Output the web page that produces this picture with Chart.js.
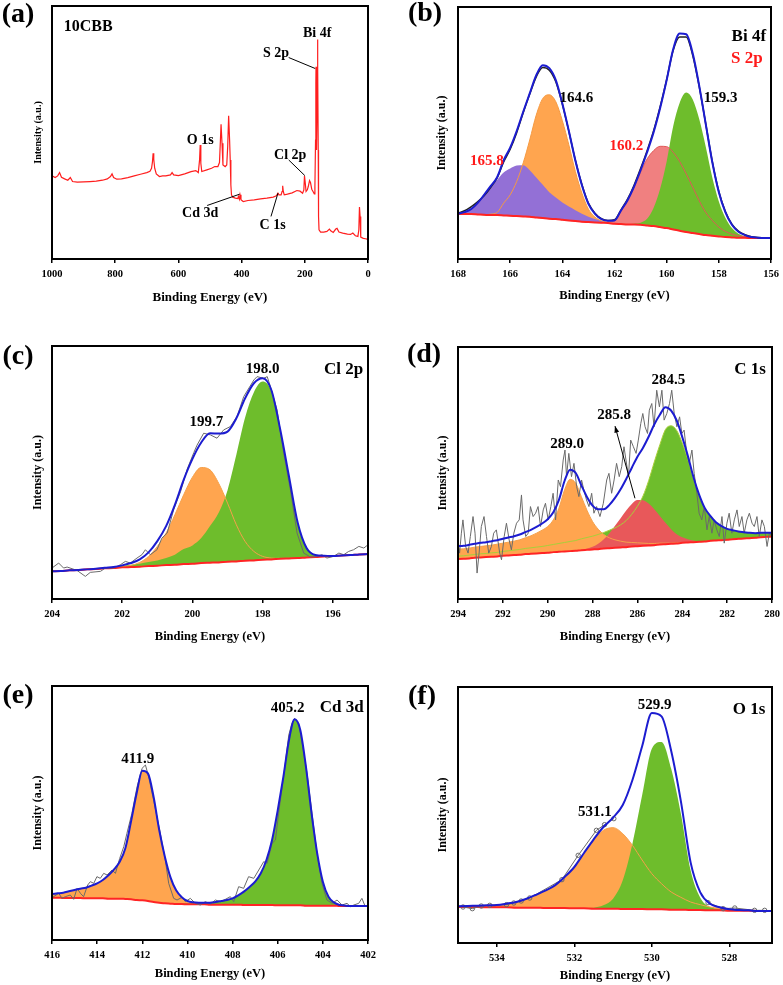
<!DOCTYPE html>
<html>
<head>
<meta charset="utf-8">
<title>XPS spectra of 10CBB</title>
<script src="https://cdn.jsdelivr.net/npm/chart.js@4.4.1/dist/chart.umd.min.js"></script>
<style>
  body { margin: 0; background: #fff; }
  #fig { position: relative; width: 783px; height: 985px; background: #fff; }
  #fig canvas { position: absolute; }
</style>
</head>
<body>
<div id="fig">
  <canvas id="pa" width="390" height="320" style="left:0;top:0"></canvas>
  <canvas id="pb" width="393" height="320" style="left:390px;top:0"></canvas>
  <canvas id="pc" width="390" height="340" style="left:0;top:320px"></canvas>
  <canvas id="pd" width="393" height="340" style="left:390px;top:320px"></canvas>
  <canvas id="pe" width="390" height="325" style="left:0;top:660px"></canvas>
  <canvas id="pf" width="393" height="325" style="left:390px;top:660px"></canvas>
</div>
<script>
// ---- (a) survey ----
const surveyEnergy = [1000,990,982,976,970,960,950,942,935,920,900,880,860,840,825,815,810,805,795,780,
  760,740,720,700,690,685,682,680,678,675,670,660,650,640,625,620,615,600,580,560,
  545,537,533,531,529,526,510,495,485,475,470,467,465,462,459,452,447,444,441,438,
  436,434,432,428,420,412,410,407,405,402,395,380,360,340,320,300,290,285,282,275,
  272,270,268,265,255,240,225,215,207,203,201,199,196,192,189,185,182,178,174,170,
  168,166,165,164.5,164,163,162,161,160,159.3,158.5,157.5,156.5,155,150,140,130,122,118,110,
  102,98,92,80,65,55,48,40,32,29,27,25,23,15,8,3,0];
const surveyCounts = [250,245,250,260,246,241,237,245,233,231,232,233,234,237,241,248,256,245,240,241,
  245,250,255,260,264,273,293,318,300,273,256,248,250,250,253,260,253,251,256,263,
  266,260,298,343,288,263,268,273,278,278,290,358,405,348,283,278,283,338,431,358,
  298,223,193,186,183,182,188,180,193,178,173,176,178,181,183,186,190,198,193,193,
  203,220,203,193,195,199,206,204,198,208,250,233,203,208,218,236,230,210,203,196,
  218,358,528,578,548,358,328,478,628,660,578,328,128,88,81,81,83,90,85,80,
  90,92,81,78,75,74,78,70,68,88,156,128,66,62,61,60,57];
const surveyTicks = [1000, 800, 600, 400, 200, 0];

// ---- (b) Bi 4f / S 2p ----
const bi4fEnergy = [168,167.75,167.5,167.25,167,166.75,166.5,166.25,166,165.75,165.5,165.25,165,164.75,164.5,164.25,164,163.75,163.5,163.25,
  163,162.75,162.5,162.25,162,161.75,161.5,161.25,161,160.75,160.5,160.25,160,159.75,159.5,159.25,159,158.75,158.5,158.25,
  158,157.75,157.5,157.25,157,156.75,156.5,156.25,156];
const bi4fRaw = [138,145,157,172,190,215,244,292,330,380,440,496,548,576,568,533,466,384,297,224,
  168,138,121,116,118,148,180,222,272,326,386,458,540,628,668,668,612,518,406,293,
  203,143,105,84,73,67,65,64,64];
const bi4fEnvelope = [136,141,150,168,193,219,246,297,335,385,443,498,553,583,574,538,468,385,296,222,
  166,136,120,115,116,146,177,218,267,321,381,454,538,631,678,676,618,520,405,291,
  201,141,103,82,72,66,64,63,63];
const bi4fBackground = [136,135,135,134,133,132,132,131,130,129,128,127,125,123,121,120,118,116,114,112,
  111,110,109,108,106,105,104,104,103,101,99,96,93,89,85,81,78,75,72,70,
  68,66,65,64,64,63,63,63,63];
const s2p1658 = [0,6,15,34,60,84,106,129,142,152,154,140,120,100,80,65,52,42,33,24,
  16,10,5,2,0,0,0,0,0,0,0,0,0,0,0,0,0,0,0,0,
  0,0,0,0,0,0,0,0,0];
const bi4f1646 = [0,0,0,0,0,3,8,37,63,104,161,231,308,360,373,353,298,227,149,86,
  39,16,6,2,0,0,0,0,0,0,0,0,0,0,0,0,0,0,0,0,
  0,0,0,0,0,0,0,0,0];
const s2p1602 = [0,0,0,0,0,0,0,0,0,0,0,0,0,0,0,0,0,0,0,0,
  0,0,0,3,10,41,72,112,158,200,227,243,245,232,208,175,138,100,68,46,
  28,17,10,6,3,1,0,0,0];
const bi4f1593 = [0,0,0,0,0,0,0,0,0,0,0,0,0,0,0,0,0,0,0,0,
  0,0,0,0,0,0,1,2,6,20,55,115,200,310,385,420,402,345,265,175,
  105,58,28,12,5,2,1,0,0];
const bi4fTicks = [168, 166, 164, 162, 160, 158, 156];

// ---- (c) Cl 2p ----
const cl2pEnergy = [204,203.75,203.5,203.25,203,202.75,202.5,202.25,202,201.75,201.5,201.25,201,200.75,200.5,200.25,200,199.75,199.5,199.25,
  199,198.75,198.5,198.25,198,197.75,197.5,197.25,197,196.75,196.5,196.25,196,195.75,195.5,195.25,195];
const cl2pBackground = [83,84,86,87,89,90,92,93,95,96,97,99,100,102,103,105,106,108,109,110,
  112,113,115,116,118,119,121,122,123,125,126,128,129,131,132,134,135];
const cl2pEnvelope = [83,84,86,87,89,91,94,96,101,108,119,140,174,219,283,358,421,470,498,497,
  503,543,603,648,663,627,509,368,228,153,132,130,129,131,132,134,135];
const cl2p1997 = [0,0,0,0,0,0,0,0,1,5,13,29,58,96,150,208,260,287,279,237,
  176,110,58,27,10,4,1,0,0,0,0,0,0,0,0,0,0];
const cl2p1980 = [0,0,0,0,0,1,2,3,5,7,9,12,16,21,30,45,55,75,110,150,
  215,320,430,505,535,504,387,246,105,28,6,2,0,0,0,0,0];
const cl2pRawEnergy = [204.0,203.81,203.67,203.57,203.29,203.05,202.91,202.62,202.48,202.24,202.05,201.91,201.77,201.58,201.44,201.34,201.2,201.01,200.87,200.72,
  200.53,200.34,200.15,199.96,199.87,199.68,199.49,199.3,199.11,198.92,198.73,198.54,198.25,198.16,197.97,197.87,197.78,197.59,197.4,197.21,
  197.02,196.83,196.64,196.45,196.31,196.17,195.98,195.83,195.69,195.55,195.41,195.26,195.12,195.0];
const cl2pRaw = [93,108,93,96,86,68,80,83,93,93,103,113,108,123,133,148,133,148,183,198,
  270,322,390,440,462,498,493,483,508,518,548,608,658,668,663,668,638,568,438,328,
  198,138,126,128,133,123,128,138,133,143,148,158,153,163];
const cl2pTicks = [204, 202, 200, 198, 196];

// ---- (d) C 1s ----
const c1sEnergy = [294,293.75,293.5,293.25,293,292.75,292.5,292.25,292,291.75,291.5,291.25,291,290.75,290.5,290.25,290,289.75,289.5,289.25,
  289,288.75,288.5,288.25,288,287.75,287.5,287.25,287,286.75,286.5,286.25,286,285.75,285.5,285.25,285,284.75,284.5,284.25,
  284,283.75,283.5,283.25,283,282.75,282.5,282.25,282,281.75,281.5,281.25,281,280.75,280.5,280.25,280];
const c1sBackground = [120,121,122,124,125,126,127,128,130,131,132,133,135,136,137,138,139,141,142,143,
  144,145,147,148,149,150,152,153,154,155,156,158,159,160,161,162,164,165,166,167,
  169,170,171,172,173,175,176,177,178,180,181,182,183,184,186,187,188];
const c1sEnvelope = [159,160,163,166,169,171,174,177,181,185,189,194,201,208,217,227,240,261,298,355,
  389,379,342,307,281,270,270,283,304,330,361,395,428,455,488,525,554,577,567,537,
  487,430,366,314,274,250,231,219,211,207,203,201,199,198,199,199,199];
const c1s2890 = [30,30,31,32,33,34,35,37,38,40,42,45,49,54,61,69,79,97,131,185,
  216,203,161,119,84,60,42,31,24,19,15,12,10,8,6,5,4,3,2,2,
  1,0,0,0,0,0,0,0,0,0,0,0,0,0,0,0,0];
const c1s2858 = [0,0,0,0,0,0,0,0,0,0,0,0,0,0,0,0,0,0,0,0,
  0,0,0,3,8,16,28,45,66,88,110,128,139,137,126,108,86,64,44,28,
  17,10,5,2,1,0,0,0,0,0,0,0,0,0,0,0,0];
const c1s2845 = [9,9,10,10,11,11,12,12,13,14,15,16,17,18,19,20,22,23,25,27,
  29,31,34,37,40,44,48,54,60,68,80,97,120,150,195,250,300,345,355,340,
  300,250,190,140,100,75,55,42,33,27,22,19,16,14,13,12,11];
const c1sRawEnergy = [294.00,293.93,293.85,293.78,293.66,293.55,293.45,293.33,293.24,293.15,293.06,292.96,292.84,292.73,292.63,292.51,292.41,292.29,292.14,292.06,
  291.94,291.84,291.72,291.62,291.51,291.39,291.27,291.17,291.10,290.98,290.87,290.77,290.65,290.54,290.43,290.32,290.20,290.10,289.98,289.86,
  289.76,289.65,289.53,289.43,289.31,289.23,289.16,289.06,288.94,288.83,288.71,288.61,288.49,288.39,288.27,288.16,288.04,287.94,287.82,287.67,
  287.52,287.37,287.27,287.15,287.04,286.93,286.81,286.70,286.60,286.51,286.40,286.30,286.18,286.06,285.96,285.85,285.76,285.66,285.55,285.47,
  285.36,285.26,285.14,285.02,284.91,284.81,284.69,284.57,284.47,284.36,284.24,284.12,284.02,283.92,283.80,283.69,283.57,283.47,283.35,283.25,
  283.13,283.02,282.90,282.80,282.68,282.58,282.46,282.35,282.23,282.13,282.01,281.91,281.79,281.68,281.56,281.46,281.34,281.24,281.12,281.01,
  280.89,280.79,280.67,280.57,280.45,280.34,280.22,280.12,280.00];
const c1sRaw = [178,138,198,238,158,138,188,248,198,78,138,218,248,188,138,158,198,208,138,118,
  188,228,178,148,198,228,238,313,238,188,198,278,248,258,278,218,268,288,238,278,
  318,238,358,338,418,448,368,438,368,408,338,308,358,328,298,278,318,258,278,248,
  288,358,378,318,358,408,368,398,458,418,368,478,458,438,478,528,558,518,498,568,
  588,518,628,578,628,538,558,588,628,558,518,548,498,508,438,408,448,378,318,258,
  238,278,208,248,198,238,208,188,248,168,228,258,198,238,268,218,248,198,238,258,
  228,218,248,188,238,218,158,198,188];
const c1sTicks = [294, 292, 290, 288, 286, 284, 282, 280];

// ---- (e) Cd 3d ----
const cd3dEnergy = [416,415.75,415.5,415.25,415,414.75,414.5,414.25,414,413.75,413.5,413.25,413,412.75,412.5,412.25,412,411.75,411.5,411.25,
  411,410.75,410.5,410.25,410,409.75,409.5,409.25,409,408.75,408.5,408.25,408,407.75,407.5,407.25,407,406.75,406.5,406.25,
  406,405.75,405.5,405.25,405,404.75,404.5,404.25,404,403.75,403.5,403.25,403,402.75,402.5,402.25,402];
const cd3dBackground = [127,127,126,126,126,126,125,125,125,125,124,124,124,123,122,120,119,117,114,112,
  110,109,108,108,107,107,107,107,106,106,106,106,106,106,105,105,105,105,105,105,
  104,104,104,104,104,103,103,103,103,103,103,102,102,102,102,102,102];
const cd3dEnvelope = [138,140,142,146,150,154,157,163,170,180,194,212,235,275,355,440,508,500,430,330,
  250,188,149,128,117,113,112,112,112,114,117,120,125,134,145,159,175,200,240,300,
  389,489,600,662,630,520,380,260,175,130,112,105,103,102,102,102,102];
const cd3d4119 = [11,13,16,20,24,28,32,38,45,55,70,88,111,152,233,320,389,383,316,218,
  140,79,40,18,7,3,1,0,0,0,0,0,0,0,0,0,0,0,0,0,
  0,0,0,0,0,0,0,0,0,0,0,0,0,0,0,0,0];
const cd3d4052 = [0,0,0,0,0,0,0,0,0,0,0,0,0,0,0,0,0,0,0,0,
  0,0,1,2,3,3,4,5,6,8,11,14,19,28,40,54,70,95,135,195,
  285,385,496,558,526,417,277,157,72,27,9,3,1,0,0,0,0];
const cd3dRawEnergy = [416.0,415.93,415.7,415.56,415.41,415.19,415.04,414.89,414.74,414.6,414.42,414.3,414.15,414.01,413.86,413.71,413.56,413.34,413.19,413.0,
  412.82,412.68,412.46,412.23,412.01,411.86,411.72,411.5,411.23,410.98,410.83,410.61,410.46,410.24,410.09,409.87,409.65,409.43,409.21,408.98,
  408.76,408.54,408.32,408.1,407.95,407.73,407.51,407.29,407.06,406.84,406.62,406.47,406.25,406.1,405.96,405.74,405.51,405.37,405.25,405.07,
  404.92,404.7,404.48,404.26,404.04,403.82,403.59,403.37,403.15,402.93,402.78,402.63,402.41,402.27,402.12,402.0];
const cd3dRaw = [132,130,140,125,130,135,122,155,140,130,165,175,170,190,185,200,195,210,200,245,
  280,320,380,460,515,525,490,420,330,240,170,125,120,128,115,125,110,105,115,108,
  120,115,122,130,115,160,155,190,185,210,235,230,290,300,380,490,615,650,665,650,
  590,500,380,260,170,120,110,120,105,110,100,105,110,125,100,105];
const cd3dTicks = [416, 414, 412, 410, 408, 406, 404, 402];

// ---- (f) O 1s ----
const o1sEnergy = [535,534.75,534.5,534.25,534,533.75,533.5,533.25,533,532.75,532.5,532.25,532,531.75,531.5,531.25,531,530.75,530.5,530.25,
  530,529.75,529.5,529.25,529,528.75,528.5,528.25,528,527.75,527.5,527.25,527,526.9];
const o1sBackground = [108,108,108,107,107,107,106,106,106,105,105,105,104,104,103,103,103,102,102,102,
  101,101,100,100,99,99,98,98,97,97,97,96,96,96];
const o1sEnvelope = [110,111,112,113,114,118,123,132,144,157,173,198,228,270,311,348,376,414,489,590,
  690,680,576,425,242,152,118,107,101,99,98,96,96,96];
const o1s5311 = [2,3,4,6,7,11,17,26,38,52,68,93,124,165,205,235,243,226,191,147,
  107,77,53,37,24,16,10,6,3,2,1,0,0,0];
const o1s5299 = [0,0,0,0,0,0,0,0,0,0,0,0,0,1,3,10,30,86,196,341,
  482,502,423,288,119,37,10,3,1,0,0,0,0,0];
const o1sRawEnergy = [534.87,534.63,534.40,534.18,533.75,533.56,533.37,533.15,532.32,531.90,531.43,531.22,530.98,529.8,528.55,528.16,527.86,527.35,527.09];
const o1sRaw = [108,103,111,113,115,120,126,135,190,263,338,355,373,null,121,103,105,98,98];
const o1sTicks = [534, 532, 530, 528];

// ---------------------------------------------------------------
const FONT = 'Liberation Serif';
Chart.defaults.font.family = FONT;
Chart.defaults.color = '#000';

const BLUE = '#1c1cd0';
const BASE_RED = '#ff2424';
const GRAY = '#6a6a6a';
const ORANGE = '#ffa54f';
const GREEN = '#6ebd2c';
const PURPLE = '#9370d6';
const PINK = '#f08080';
const RED_PEAK = '#e8585a';

function pts(xs, ys) {
  return xs.map((x, i) => ({x: x, y: ys[i]}));
}

// a plain line; seq = drawing sequence (1 is drawn first)
function curve(xs, ys, color, width, seq, smooth) {
  return {
    data: pts(xs, ys), borderColor: color, borderWidth: width, pointRadius: 0,
    fill: false, order: 50 - seq,
    cubicInterpolationMode: smooth ? 'monotone' : 'default', tension: 0
  };
}

// fitted component, filled down to the background (dataset 0)
function peak(xs, bg, h, color, seq) {
  return {
    data: pts(xs, bg.map((b, i) => b + h[i])), borderColor: 'rgba(0,0,0,0)', borderWidth: 1,
    backgroundColor: color, fill: 0, pointRadius: 0, order: 50 - seq,
    cubicInterpolationMode: 'monotone'
  };
}

function outline(xs, bg, h, color, seq) {
  return curve(xs, bg.map((b, i) => b + h[i]), color, 1, seq, true);
}

// texts and leader lines (data coordinates)
const decor = {
  pa: {letter: '(a)', at: [18, 15],
    texts: [
      {t: '10CBB', x: 963, y: 698, size: 16, align: 'left'},
      {t: 'Bi 4f', x: 161, y: 678, size: 14},
      {t: 'S 2p', x: 291, y: 618, size: 14},
      {t: 'O 1s', x: 531, y: 358, size: 14},
      {t: 'Cl 2p', x: 246, y: 313, size: 14},
      {t: 'Cd 3d', x: 531, y: 138, size: 14},
      {t: 'C 1s', x: 302, y: 100, size: 14}
    ],
    leaders: [[251, 606, 167, 573], [251, 298, 200, 251], [509, 161, 406, 195], [307, 128, 285, 198]]
  },
  pb: {letter: '(b)', at: [35, 14],
    texts: [
      {t: 'Bi 4f', x: 156.19, y: 668, size: 17, align: 'right'},
      {t: 'S 2p', x: 156.32, y: 603, size: 17, align: 'right', color: '#ff1a1a'},
      {t: '164.6', x: 163.46, y: 483, size: 15},
      {t: '159.3', x: 157.93, y: 483, size: 15},
      {t: '165.8', x: 166.89, y: 295, size: 15, color: '#ff1a1a'},
      {t: '160.2', x: 161.54, y: 341, size: 15, color: '#ff1a1a'}
    ]
  },
  pc: {letter: '(c)', at: [18, 37],
    texts: [
      {t: 'Cl 2p', x: 195.14, y: 690, size: 17, align: 'right'},
      {t: '198.0', x: 198.0, y: 690, size: 15},
      {t: '199.7', x: 199.6, y: 530, size: 15}
    ]
  },
  pd: {letter: '(d)', at: [34, 35],
    texts: [
      {t: 'C 1s', x: 280.27, y: 690, size: 17, align: 'right'},
      {t: '284.5', x: 284.62, y: 658, size: 15},
      {t: '285.8', x: 287.04, y: 553, size: 15},
      {t: '289.0', x: 289.13, y: 466, size: 15}
    ],
    arrows: [[286.11, 303, 287.0, 520]]
  },
  pe: {letter: '(e)', at: [18, 36],
    texts: [
      {t: 'Cd 3d', x: 402.19, y: 697, size: 17, align: 'right'},
      {t: '405.2', x: 405.56, y: 697, size: 15},
      {t: '411.9', x: 412.2, y: 544, size: 15}
    ]
  },
  pf: {letter: '(f)', at: [32, 37],
    texts: [
      {t: 'O 1s', x: 527.07, y: 700, size: 17, align: 'right'},
      {t: '529.9', x: 529.93, y: 714, size: 15},
      {t: '531.1', x: 531.47, y: 394, size: 15}
    ]
  }
};

const frame = {
  id: 'frame',
  afterDraw(chart) {
    const d = decor[chart.canvas.id];
    const {ctx, chartArea: a} = chart;
    const sx = chart.scales.x, sy = chart.scales.y;
    ctx.save();
    ctx.strokeStyle = '#000';
    ctx.lineWidth = 2;
    ctx.strokeRect(a.left, a.top, a.right - a.left, a.bottom - a.top);

    ctx.fillStyle = '#000';
    ctx.textAlign = 'center';
    ctx.textBaseline = 'middle';
    ctx.font = 'bold 28px "' + FONT + '"';
    ctx.fillText(d.letter, d.at[0], d.at[1]);

    ctx.lineWidth = 1;
    (d.leaders || []).forEach(l => {
      ctx.beginPath();
      ctx.moveTo(sx.getPixelForValue(l[0]), sy.getPixelForValue(l[1]));
      ctx.lineTo(sx.getPixelForValue(l[2]), sy.getPixelForValue(l[3]));
      ctx.stroke();
    });
    (d.arrows || []).forEach(l => {
      const x0 = sx.getPixelForValue(l[0]), y0 = sy.getPixelForValue(l[1]);
      const x1 = sx.getPixelForValue(l[2]), y1 = sy.getPixelForValue(l[3]);
      const ang = Math.atan2(y1 - y0, x1 - x0);
      ctx.beginPath();
      ctx.moveTo(x0, y0);
      ctx.lineTo(x1, y1);
      ctx.stroke();
      ctx.beginPath();
      ctx.moveTo(x1, y1);
      ctx.lineTo(x1 - 7 * Math.cos(ang - 0.35), y1 - 7 * Math.sin(ang - 0.35));
      ctx.lineTo(x1 - 7 * Math.cos(ang + 0.35), y1 - 7 * Math.sin(ang + 0.35));
      ctx.closePath();
      ctx.fill();
    });

    d.texts.forEach(t => {
      ctx.font = 'bold ' + t.size + 'px "' + FONT + '"';
      ctx.fillStyle = t.color || '#000';
      ctx.textAlign = t.align || 'center';
      ctx.fillText(t.t, sx.getPixelForValue(t.x), sy.getPixelForValue(t.y));
    });
    ctx.restore();
  }
};

// p.area = [left, right, top, bottom] of the plot box inside the canvas
function panel(id, p) {
  const cv = document.getElementById(id);
  const W = cv.width, H = cv.height, a = p.area;
  new Chart(cv, {
    type: 'line',
    data: {datasets: p.datasets},
    options: {
      responsive: false,
      animation: false,
      devicePixelRatio: 1,
      events: [],
      layout: {padding: {left: 0, right: W - a[1], top: a[2], bottom: 0}},
      plugins: {legend: {display: false}, tooltip: {enabled: false}},
      scales: {
        x: {
          type: 'linear', min: p.xr[0], max: p.xr[1], reverse: true,
          afterBuildTicks: s => { s.ticks = p.ticks.map(v => ({value: v})); },
          afterFit: s => { s.height = H - a[3]; s.paddingLeft = 0; s.paddingRight = 0; },
          grid: {drawOnChartArea: false, drawTicks: true, tickLength: 4, color: '#000', lineWidth: 1.5},
          border: {display: false},
          ticks: {
            color: '#000', padding: 5, maxRotation: 0, autoSkip: false,
            font: {family: FONT, size: 10.5, weight: 'bold'},
            callback: v => String(v)
          },
          title: {
            display: true, text: 'Binding Energy (eV)', color: '#000',
            font: {family: FONT, size: p.xTitleSize || 12.5, weight: 'bold'},
            padding: {top: 0, bottom: p.xTitlePad}
          }
        },
        y: {
          type: 'linear', min: 0, max: p.yMax,
          afterFit: s => { s.width = a[0]; s.paddingTop = 0; s.paddingBottom = 0; },
          grid: {display: false},
          border: {display: false},
          ticks: {display: false},
          title: {
            display: true, text: 'Intensity (a.u.)', color: '#000',
            font: {family: FONT, size: p.yTitleSize || 12, weight: 'bold'},
            padding: {top: p.yTitleX - (p.yTitleSize || 12) * 0.6, bottom: 0}
          }
        }
      }
    },
    plugins: [frame]
  });
}

// (a)
panel('pa', {
  area: [52, 368, 6, 259], xr: [0, 1000], yMax: 761, ticks: surveyTicks,
  xTitlePad: 15, xTitleSize: 13, yTitleX: 38, yTitleSize: 10,
  datasets: [curve(surveyEnergy, surveyCounts, '#ff1e1e', 1.2, 1, false)]
});

// (b)
panel('pb', {
  area: [68, 381, 7, 259], xr: [156, 168], yMax: 758, ticks: bi4fTicks,
  xTitlePad: 17, yTitleX: 52,
  datasets: [
    curve(bi4fEnergy, bi4fBackground, BASE_RED, 2, 7, true),
    peak(bi4fEnergy, bi4fBackground, bi4f1646, ORANGE, 1),
    peak(bi4fEnergy, bi4fBackground, s2p1658, PURPLE, 2),
    peak(bi4fEnergy, bi4fBackground, s2p1602, PINK, 3),
    peak(bi4fEnergy, bi4fBackground, bi4f1593, GREEN, 4),
    outline(bi4fEnergy, bi4fBackground, bi4f1646, '#f59a42', 5),
    outline(bi4fEnergy, bi4fBackground, s2p1602, '#e05858', 6),
    curve(bi4fEnergy, bi4fRaw, '#222', 1.5, 8, true),
    curve(bi4fEnergy, bi4fEnvelope, BLUE, 2, 9, true)
  ]
});

// (c)
panel('pc', {
  area: [52, 368, 26, 279], xr: [195, 204], yMax: 760, ticks: cl2pTicks,
  xTitlePad: 16, yTitleX: 38,
  datasets: [
    curve(cl2pEnergy, cl2pBackground, BASE_RED, 2, 4, true),
    peak(cl2pEnergy, cl2pBackground, cl2p1997, ORANGE, 1),
    peak(cl2pEnergy, cl2pBackground, cl2p1980, GREEN, 2),
    outline(cl2pEnergy, cl2pBackground, cl2p1997, '#f5a04a', 3),
    curve(cl2pRawEnergy, cl2pRaw, GRAY, 1, 5, false),
    curve(cl2pEnergy, cl2pEnvelope, BLUE, 2, 6, true)
  ]
});

// (d)
panel('pd', {
  area: [68, 382, 27, 279], xr: [280, 294], yMax: 758, ticks: c1sTicks,
  xTitlePad: 16, yTitleX: 53,
  datasets: [
    curve(c1sEnergy, c1sBackground, BASE_RED, 2, 6, true),
    peak(c1sEnergy, c1sBackground, c1s2845, GREEN, 1),
    peak(c1sEnergy, c1sBackground, c1s2890, ORANGE, 2),
    peak(c1sEnergy, c1sBackground, c1s2858, RED_PEAK, 3),
    outline(c1sEnergy, c1sBackground, c1s2845, '#a8cf3a', 4),
    outline(c1sEnergy, c1sBackground, c1s2890, '#f5a04a', 5),
    curve(c1sRawEnergy, c1sRaw, GRAY, 1, 7, false),
    curve(c1sEnergy, c1sEnvelope, BLUE, 2, 8, true)
  ]
});

// (e)
panel('pe', {
  area: [52, 368, 26, 280], xr: [402, 416], yMax: 762, ticks: cd3dTicks,
  xTitlePad: 4, yTitleX: 38,
  datasets: [
    curve(cd3dEnergy, cd3dBackground, BASE_RED, 2, 3, true),
    peak(cd3dEnergy, cd3dBackground, cd3d4119, ORANGE, 1),
    peak(cd3dEnergy, cd3dBackground, cd3d4052, GREEN, 2),
    curve(cd3dRawEnergy, cd3dRaw, GRAY, 1, 4, false),
    curve(cd3dEnergy, cd3dEnvelope, BLUE, 2, 5, true)
  ]
});

// (f)
const o1sRawSet = curve(o1sRawEnergy, o1sRaw, GRAY, 1, 5, false);
o1sRawSet.pointRadius = 2.2;
o1sRawSet.pointBorderColor = GRAY;
o1sRawSet.pointBorderWidth = 1;
o1sRawSet.pointBackgroundColor = 'rgba(255,255,255,0)';
panel('pf', {
  area: [68, 382, 27, 283], xr: [526.9, 535], yMax: 768, ticks: o1sTicks,
  xTitlePad: 2, yTitleX: 53,
  datasets: [
    curve(o1sEnergy, o1sBackground, BASE_RED, 2, 4, true),
    peak(o1sEnergy, o1sBackground, o1s5311, ORANGE, 1),
    peak(o1sEnergy, o1sBackground, o1s5299, GREEN, 2),
    outline(o1sEnergy, o1sBackground, o1s5311, '#f5a04a', 3),
    o1sRawSet,
    curve(o1sEnergy, o1sEnvelope, BLUE, 2, 6, true)
  ]
});
</script>
</body>
</html>
